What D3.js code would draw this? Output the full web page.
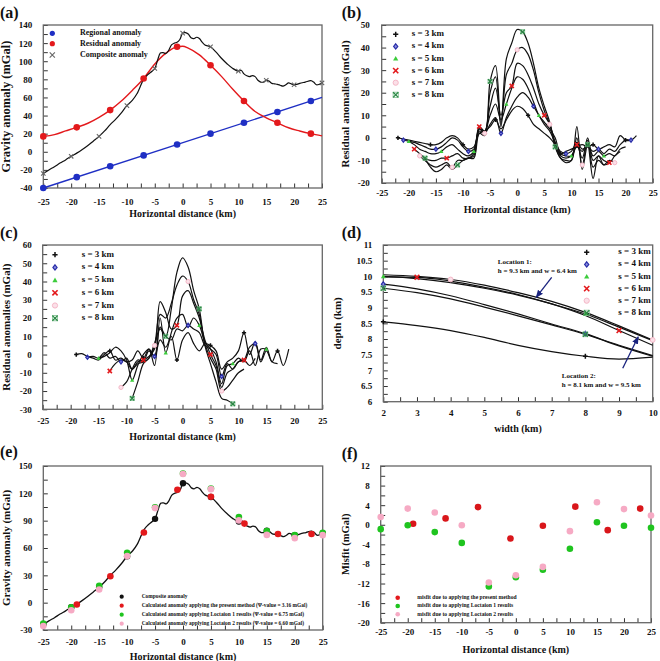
<!DOCTYPE html>
<html lang="en">
<head>
<meta charset="UTF-8"/>
<title>Gravity anomaly – residual separation panels</title>
<script src="https://d3js.org/d3.v7.min.js"></script>
<style>
  body { margin: 0; background: #fff; }
  svg text { font-family: "Liberation Serif", "Times New Roman", serif; font-weight: bold; fill: #111; }
</style>
</head>
<body>
<script>
// ---------- data ----------

// (a) / (e) composite anomaly profile
var compositeLine = [[-25,-24],[-24,-20],[-23,-16.5],[-22,-12.5],[-21,-9],[-20,-5],[-19,-1.5],[-18,2.5],[-17,7],[-16,12],
  [-15,17],[-14,23],[-13,30],[-12,36],[-11,43],[-10,51],[-9,57],[-8.2,64],[-7,80],[-6.3,85],[-5.5,89],[-5,92],[-4.5,101],
  [-4,109],[-3.5,109.5],[-3,108.5],[-2.5,112],[-2,118],[-1.5,120],[-1,121],[-0.5,124],[0,131],[0.5,131.5],[1,130],
  [1.5,126],[2,125],[2.5,126.5],[3,125],[3.5,121],[4,118],[4.5,117],[5,116],[6,110],[7,103],[8,97],[9,92],[10,89],
  [10.5,90],[11,86],[11.5,84],[12,83],[12.5,84],[13,83],[13.5,79],[14,77],[14.5,77],[15,79],[15.5,78],[16,75.5],
  [16.5,75],[17,74.5],[17.5,73.5],[18,72.5],[18.5,74],[19,76],[19.5,75],[20,74],[20.5,74.5],[21,75.5],[22,77],
  [23,78.5],[23.5,77],[24,74],[24.5,74.5],[25,76]];
var compositeMarks = [[-25,-24],[-20,-5],[-15,17],[-10,51],[-5,92],[0,131],[5,116],[10,89],[15,79],[20,74],[25,76]];

// (a) regional and residual anomalies
var regionalLine = [[-25,-40],[25,60]];
var regionalMarks = [[-25,-40],[-19,-28],[-13,-16],[-7,-4],[-1,8],[5,20],[11,32],[17,44],[23,56]];
var residualLine = [[-25,17],[-23,19],[-21,23],[-19,27],[-17,31.5],[-15,38],[-13,46],[-11,56],[-9,68],[-7,81],
  [-5,97],[-3,109],[-1,116],[0,116.5],[1,114.5],[3,107],[5,95.5],[7,83],[9,69],[11,56],[13,44.5],[15,37.5],
  [17,32],[19,26.5],[21,23],[23,20],[25,17.5]];
var residualMarks = [[-25,17],[-19,27],[-13,46],[-7,81],[-1,116],[5,95.5],[11,56],[17,32],[23,20]];

// (b) residual anomalies, one value per km starting at bStart
var sLabels = ["s = 3 km","s = 4 km","s = 5 km","s = 6 km","s = 7 km","s = 8 km"];
var bStart = [-22,-21,-20,-19,-18,-17];
var bS3 = [0,-0.5,-1,-1.5,-2,-2.5,-3,-3,-2,0,1,0,-3,-5,-4,2,3,5,8,4,8,12,14,13,10,6,4,2,0,-3,-7,-6,-5,-4,-3,-4,-3,-5,-4,-3,-4,1,-1,-1,1];
var bS4 = [-1,-1.5,-2,-3,-4,-5,-5,-4,-2,0,-1,-4,-6,-5,3,2,6,9,2,9,14,18,20,18,14,10,6,3,-2,-6,-7,-6,-2,-5,-4,-6,-5,-7,-5,-6,-3,-1,-1];
var bS5 = [-1.5,-3,-5,-6,-7,-7,-6,-4,-3,-5,-7,-8,-6,4,3,10,15,8,15,22,27,26,22,16,10,7,4,0,-7,-8,-8,-4,-6,-2,-8,-6,-8,-7,-8,-5,-4];
var bS6 = [-5,-7,-9,-10,-10,-9,-9,-8,-7,-9,-9,-7,5,3,14,22,10,20,23,33,32,28,22,15,10,6,-2,-8,-9,-8,-3,-9,0,-10,-8,-10,-11,-8,-6];
var bS7 = [-8,-10,-12,-13,-12,-11,-13,-10,-10,-9,-8,4,2,20,27,5,28,33,39,40,37,30,20,12,6,-3,-9,-10,-10,0,-12,-1,-13,-10,-12,-10,-11];
var bS8 = [-9,-13,-15,-14,-12,-14,-12,-10,-9,-9,2,1,25,32,6,35,42,48,47,42,33,22,14,7,-4,-9,-11,-10,5,-14,-3,-18,-8,-12,-11];

// (c) residual anomalies, one value per km starting at cStart
var cStart = [-19,-17,-15,-13,-11,-9];
var cS3 = [0,0.5,-1,-2,-3,0,2,-3,-2,-4,-3,2,-2,3,-1,8,4,10,-3,8,12,6,2,6,5,2,-8,-4,-2,2,12,0,7,-3,4,-4,2,-6,3];
var cS4 = [-1.5,-1,-2,1,-2,-1,-4,-2,-8,-5,-4,2,-1,15,10,8,14,13,16,14,12,5,3,0,-12,-5,-8,-4,-3,4,6,-4,2,-4,-5];
var cS5 = [-2,-1,1,4,2,-3,-14,-6,0,3,-6,20,1,12,20,22,15,20,16,7,3,-4,-16,-6,-5,-2,-4,2,-6,3,3];
var cS6 = [-9,-5,-3,-4,-8,-4,-3,-1,3,29,23,14,16,32,35,28,20,8,0,-6,-18,-10,-8,-4,-3,-6,-2];
var cS7 = [-18,-15,-8,-3,-4,-2,5,22,20,28,38,43,40,30,22,6,-2,-8,-20,-18,-14,-10,-8];
var cS8 = [-24,-15,-5,-2,6,14,10,25,45,53,48,35,25,5,-5,-15,-24,-25,-27];

// (d) depth versus width
var dWidth = [2,3,4,5,6,7,8,9,10];
var dS3 = [8.55,8.43,8.27,8.05,7.8,7.6,7.45,7.36,7.42];
var dS4 = [9.75,9.6,9.38,9.1,8.8,8.48,8.17,7.78,7.45];
var dS5 = [10.0,9.93,9.8,9.62,9.4,9.12,8.8,8.38,7.95];
var dS6 = [9.98,9.97,9.85,9.65,9.42,9.12,8.75,8.27,7.8];
var dS7 = [10.05,10.0,9.9,9.72,9.48,9.2,8.85,8.42,7.97];
var dS8 = [9.62,9.48,9.28,9.02,8.74,8.45,8.15,7.8,7.47];
var dMarkW = [[2,8],[2,8],[2,8],[3,9],[4,10],[2,8]];
var dLocations = [
  {label: "Location 1:", text: "h = 9.3 km and w = 6.4 km", from: [7.0,9.97], to: [6.54,9.33], at: [5.4,10.38]},
  {label: "Location 2:", text: "h =  8.1 km and w = 9.5 km", from: [9.11,7.07], to: [9.57,8.07], at: [7.3,6.75]}
];

// (e) calculated anomalies
var eLegend = ["Composite anomaly",
  "Calculated anomaly applying the present method (\u03A8-value = 3.16 mGal)",
  "Calculated anomaly applying Loctaion 1 results (\u03A8-value = 6.75 mGal)",
  "Calculated anomaly applying Loctaion 2 results (\u03A8-value = 6.60 mGal)"];
var calcPresent = [[-19,-2],[-13,29],[-7,77],[-1,124],[5,116.2],[11,86.8],[17,75.4],[23,75.4]];
var calcLoc1 = [[-25,-23],[-20,-5],[-15,18.5],[-10,54.7],[-5,104.6],[0,141.7],[5,125.2],[10,93.9],[15,78.5],[20,74.2],[25,76.6]];
var calcLoc2 = [[-25,-25.6],[-20,-8.3],[-15,14.5],[-10,51.1],[-5,103.8],[0,141.3],[5,124.6],[10,90.3],[15,74.4],[20,70.8],[25,74.1]];

// (f) misfits
var fLegend = ["misfit due to applying the present method",
  "misfit due to applying Loctaion 1 results",
  "misfit due to applying Loctaion 2 results"];
var misfitPresent = [[-19,0.2],[-13,1.3],[-7,3.6],[-1,-2.8],[5,-0.2],[11,3.7],[17,-1.1],[23,3.3]];
var misfitLoc1 = [[-25,-0.9],[-20,-0.1],[-15,-1.5],[-10,-3.7],[-5,-12.6],[0,-10.7],[5,-9.2],[10,-4.9],[15,0.5],[20,-0.2],[25,-0.6]];
var misfitLoc2 = [[-25,1.6],[-20,3.3],[-15,2.5],[-10,-0.1],[-5,-11.8],[0,-10.3],[5,-8.6],[10,-1.3],[15,4.6],[20,3.2],[25,1.9]];

// ---------- drawing ----------
var W = 660, H = 661;
var svg = d3.select("body").append("svg").attr("width", W).attr("height", H);

var defs = svg.append("defs");
defs.append("marker").attr("id", "arr").attr("viewBox", "0 0 10 10")
  .attr("refX", 9).attr("refY", 5).attr("markerWidth", 6).attr("markerHeight", 6)
  .attr("orient", "auto")
  .append("path").attr("d", "M0,1L10,5L0,9Z").attr("fill", "#1a237e");

var RED = "#e3191c", BLUE = "#1f2fc4", GREEN = "#1fc41f", PINK = "#f6aac4";
var symKinds = ["plus","diamond","triangle","cross","circle","boxx"];

function fmt(d) { return String(Math.round(d * 100) / 100); }
function onStep(d, step, base) { var k = (d - base) / step; return Math.abs(k - Math.round(k)) < 1e-6; }

function panel(o) {
  var x = d3.scaleLinear().domain(o.xDom).range([o.l, o.r]);
  var y = d3.scaleLinear().domain(o.yDom).range([o.b, o.t]);
  var g = svg.append("g");

  var xa = d3.axisBottom(x)
    .tickValues(d3.range(o.xDom[0], o.xDom[1] + 1e-6, o.xMinor))
    .tickSize(-4.5).tickPadding(o.xPad)
    .tickFormat(function(d) { return onStep(d, o.xMajor, o.xDom[0]) ? fmt(d) : ""; });
  var ya = d3.axisLeft(y)
    .tickValues(d3.range(o.yDom[0], o.yDom[1] + 1e-6, o.yMinor))
    .tickSize(-4.5).tickPadding(o.yPad)
    .tickFormat(function(d) { return onStep(d, o.yMajor, o.yDom[0]) ? fmt(d) : ""; });

  g.append("g").attr("class", "ax").attr("transform", "translate(0," + o.b + ")").call(xa);
  g.append("g").attr("class", "ax").attr("transform", "translate(" + o.l + ",0)").call(ya);
  g.selectAll(".ax .domain").remove();
  g.selectAll(".ax line").attr("stroke", "#333").attr("stroke-width", 1);
  g.selectAll(".ax text").style("font-size", "9px");

  g.append("rect").attr("x", o.l).attr("y", o.t)
    .attr("width", o.r - o.l).attr("height", o.b - o.t)
    .attr("fill", "none").attr("stroke", "#666").attr("stroke-width", 1.3);

  g.append("text").attr("x", (o.l + o.r) / 2).attr("y", o.b + o.xTitleOff)
    .attr("text-anchor", "middle").attr("dominant-baseline", "middle")
    .style("font-size", "10px").text(o.xTitle);
  g.append("text")
    .attr("transform", "translate(" + o.yTitleX + "," + ((o.t + o.b) / 2) + ") rotate(-90)")
    .attr("text-anchor", "middle").attr("dominant-baseline", "middle")
    .style("font-size", o.yTitleSize + "px").text(o.yTitle);
  g.append("text").attr("x", o.labX).attr("y", o.labY)
    .style("font-size", "16px").text(o.label);

  return { x: x, y: y, g: g.append("g") };
}

function symbol(g, kind, cx, cy, s) {
  if (kind == "plus") {
    g.append("path").attr("d", "M" + (cx - s) + "," + cy + "H" + (cx + s) + "M" + cx + "," + (cy - s) + "V" + (cy + s))
      .attr("stroke", "#111").attr("stroke-width", 1.5);
  } else if (kind == "diamond") {
    g.append("path").attr("d", "M" + cx + "," + (cy - s) + "L" + (cx + s * 0.8) + "," + cy + "L" + cx + "," + (cy + s) + "L" + (cx - s * 0.8) + "," + cy + "Z")
      .attr("fill", "#8a8ee0").attr("stroke", "#2a2ea8").attr("stroke-width", 1.2);
  } else if (kind == "triangle") {
    g.append("path").attr("d", "M" + cx + "," + (cy - s) + "L" + (cx + s) + "," + (cy + s * 0.8) + "L" + (cx - s) + "," + (cy + s * 0.8) + "Z")
      .attr("fill", "#3ccc3c");
  } else if (kind == "cross") {
    g.append("path").attr("d", "M" + (cx - s) + "," + (cy - s) + "L" + (cx + s) + "," + (cy + s) + "M" + (cx + s) + "," + (cy - s) + "L" + (cx - s) + "," + (cy + s))
      .attr("stroke", RED).attr("stroke-width", 1.6);
  } else if (kind == "circle") {
    g.append("circle").attr("cx", cx).attr("cy", cy).attr("r", s)
      .attr("fill", "#fbe0e8").attr("stroke", "#f5b8c8").attr("stroke-width", 1);
  } else if (kind == "boxx") {
    g.append("rect").attr("x", cx - s).attr("y", cy - s).attr("width", 2 * s).attr("height", 2 * s)
      .attr("fill", "none").attr("stroke", "#7fbf8f").attr("stroke-width", 0.8);
    g.append("path").attr("d", "M" + (cx - s) + "," + (cy - s) + "L" + (cx + s) + "," + (cy + s) + "M" + (cx + s) + "," + (cy - s) + "L" + (cx - s) + "," + (cy + s))
      .attr("stroke", "#2b8a45").attr("stroke-width", 1.3);
  } else if (kind == "gx") {
    g.append("path").attr("d", "M" + (cx - s) + "," + (cy - s) + "L" + (cx + s) + "," + (cy + s) + "M" + (cx + s) + "," + (cy - s) + "L" + (cx - s) + "," + (cy + s))
      .attr("stroke", "#666").attr("stroke-width", 1.1);
  }
}

function dots(p, pts, color, r) {
  p.g.selectAll(null).data(pts).enter().append("circle")
    .attr("cx", function(d) { return p.x(d[0]); })
    .attr("cy", function(d) { return p.y(d[1]); })
    .attr("r", r).attr("fill", color);
}

function curve(p, pts, color, w, cv) {
  var line = d3.line()
    .x(function(d) { return p.x(d[0]); })
    .y(function(d) { return p.y(d[1]); })
    .curve(cv || d3.curveCatmullRom.alpha(0.5));
  p.g.append("path").datum(pts).attr("d", line)
    .attr("fill", "none").attr("stroke", color).attr("stroke-width", w);
}

function legendRow(g, kind, mx, my, tx, label, size, color) {
  if (color) g.append("circle").attr("cx", mx).attr("cy", my).attr("r", kind).attr("fill", color);
  else symbol(g, kind, mx, my, 2.6);
  g.append("text").attr("x", tx).attr("y", my).attr("dominant-baseline", "middle")
    .style("font-size", size + "px").text(label);
}

// ----- (a) -----
var pa = panel({ l: 43.3, r: 322, t: 25, b: 188, xDom: [-25, 25], yDom: [-40, 140],
  xMajor: 5, xMinor: 2.5, yMajor: 20, yMinor: 10, xPad: 11, yPad: 11,
  xTitle: "Horizontal distance (km)", yTitle: "Gravity anomaly (mGal)", xTitleOff: 27, yTitleX: 7.5, yTitleSize: 12.5,
  label: "(a)", labX: 0, labY: 17.5 });
curve(pa, regionalLine, BLUE, 1.4, d3.curveLinear);
curve(pa, residualLine, RED, 1.4, d3.curveMonotoneX);
curve(pa, compositeLine, "#111", 1.2);
pa.g.selectAll(null).data(compositeMarks).enter().each(function(d) { symbol(pa.g, "gx", pa.x(d[0]), pa.y(d[1]), 2.2); });
dots(pa, regionalMarks, BLUE, 3.3);
dots(pa, residualMarks, RED, 3.3);
legendRow(pa.g, 2.6, 52.3, 33.3, 80, "Regional anomaly", 8, BLUE);
legendRow(pa.g, 2.6, 52.3, 43.7, 80, "Residual anomaly", 8, RED);
legendRow(pa.g, "gx", 52.3, 55, 80, "Composite anomaly", 8);

// ----- (b) and (c) -----
function residualPanel(p, starts, series) {
  series.forEach(function(vals, i) {
    var pts = vals.map(function(v, k) { return [starts[i] + k, v]; });
    curve(p, pts, "#111", 1.2);
  });
  series.forEach(function(vals, i) {
    vals.forEach(function(v, k) {
      if (k % 6 == 0) symbol(p.g, symKinds[i], p.x(starts[i] + k), p.y(v), 2.1);
    });
  });
}

var pb = panel({ l: 381.7, r: 652.7, t: 25, b: 183, xDom: [-25, 25], yDom: [-20, 50],
  xMajor: 5, xMinor: 2.5, yMajor: 10, yMinor: 5, xPad: 7, yPad: 12,
  xTitle: "Horizontal distance (km)", yTitle: "Residual anomalies (mGal)", xTitleOff: 28, yTitleX: 346, yTitleSize: 11,
  label: "(b)", labX: 341.7, labY: 17.5 });
residualPanel(pb, bStart, [bS3, bS4, bS5, bS6, bS7, bS8]);
sLabels.forEach(function(t, i) { legendRow(pb.g, symKinds[i], 395.7, 34.3 + i * 12.1, 411.7, t, 9); });

var pc = panel({ l: 42.7, r: 322.3, t: 245, b: 409.3, xDom: [-25, 25], yDom: [-30, 60],
  xMajor: 5, xMinor: 2.5, yMajor: 10, yMinor: 5, xPad: 8, yPad: 11,
  xTitle: "Horizontal distance (km)", yTitle: "Residual anomalies (mGal)", xTitleOff: 28, yTitleX: 7.5, yTitleSize: 11,
  label: "(c)", labX: 0, labY: 237.5 });
residualPanel(pc, cStart, [cS3, cS4, cS5, cS6, cS7, cS8]);
sLabels.forEach(function(t, i) { legendRow(pc.g, symKinds[i], 55, 254.7 + i * 12.7, 81.7, t, 9); });

// ----- (d) -----
var pd = panel({ l: 383.3, r: 652.7, t: 245, b: 401.7, xDom: [2, 10], yDom: [6, 11],
  xMajor: 1, xMinor: 0.5, yMajor: 0.5, yMinor: 0.25, xPad: 7.5, yPad: 11,
  xTitle: "width (km)", yTitle: "depth (km)", xTitleOff: 27.6, yTitleX: 338.3, yTitleSize: 11,
  label: "(d)", labX: 341.7, labY: 237.5 });
var dSeries = [dS3, dS4, dS5, dS6, dS7, dS8];
dSeries.forEach(function(vals) {
  curve(pd, vals.map(function(v, k) { return [dWidth[k], v]; }), "#111", 1.2, d3.curveMonotoneX);
});
dSeries.forEach(function(vals, i) {
  dMarkW[i].forEach(function(w) {
    var k = dWidth.indexOf(w);
    symbol(pd.g, symKinds[i], pd.x(w), pd.y(vals[k]), 2.4);
  });
});
dLocations.forEach(function(L) {
  pd.g.append("line").attr("x1", pd.x(L.from[0])).attr("y1", pd.y(L.from[1]))
    .attr("x2", pd.x(L.to[0])).attr("y2", pd.y(L.to[1]))
    .attr("stroke", "#1a237e").attr("stroke-width", 1.3).attr("marker-end", "url(#arr)");
  pd.g.append("text").attr("x", pd.x(L.at[0])).attr("y", pd.y(L.at[1])).style("font-size", "7px").text(L.label);
  pd.g.append("text").attr("x", pd.x(L.at[0])).attr("y", pd.y(L.at[1]) + 8.5).style("font-size", "7px").text(L.text);
});
sLabels.forEach(function(t, i) { legendRow(pd.g, symKinds[i], 586.7, 252.3 + i * 12.1, 618.3, t, 9); });

// ----- (e) -----
var pe = panel({ l: 43.3, r: 322.7, t: 466, b: 630, xDom: [-25, 25], yDom: [-30, 150],
  xMajor: 5, xMinor: 2.5, yMajor: 30, yMinor: 15, xPad: 8.5, yPad: 11,
  xTitle: "Horizontal distance (km)", yTitle: "Gravity anomaly (mGal)", xTitleOff: 28, yTitleX: 7.5, yTitleSize: 11,
  label: "(e)", labX: 0, labY: 457 });
curve(pe, compositeLine, "#111", 1.3);
dots(pe, compositeMarks, "#111", 3.2);
dots(pe, calcLoc1, GREEN, 3.3);
dots(pe, calcLoc2, PINK, 3.3);
dots(pe, calcPresent, RED, 3.3);
[["#111"], [RED], [GREEN], [PINK]].forEach(function(c, i) {
  legendRow(pe.g, 2.1, 121.7, 596.7 + i * 9, 141.7, eLegend[i], 5.4, c[0]);
});

// ----- (f) -----
var pf = panel({ l: 380.7, r: 651, t: 466, b: 622.7, xDom: [-25, 25], yDom: [-20, 12],
  xMajor: 5, xMinor: 2.5, yMajor: 4, yMinor: 2, xPad: 6, yPad: 11,
  xTitle: "Horizontal distance (km)", yTitle: "Misfit (mGal)", xTitleOff: 28, yTitleX: 346.7, yTitleSize: 10.5,
  label: "(f)", labX: 341.7, labY: 459 });
dots(pf, misfitPresent, "#d9161a", 3.3);
dots(pf, misfitLoc1, GREEN, 3.3);
dots(pf, misfitLoc2, PINK, 3.3);
[RED, GREEN, PINK].forEach(function(c, i) {
  legendRow(pf.g, 2.3, 397.7, 597.7 + i * 8.3, 417.3, fLegend[i], 5.6, c);
});
</script>
</body>
</html>
